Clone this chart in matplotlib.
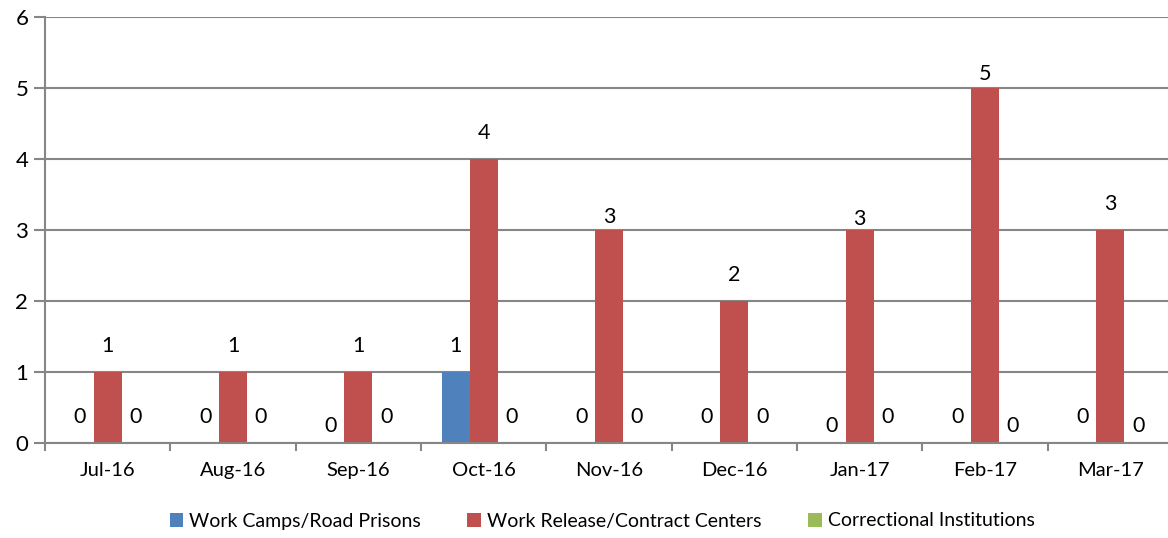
import matplotlib
matplotlib.use("Agg")
import matplotlib.pyplot as plt
import numpy as np
from matplotlib.patches import Patch

plt.rcParams['font.family'] = ['Lato', 'DejaVu Sans']

categories = ["Jul-16", "Aug-16", "Sep-16", "Oct-16", "Nov-16", "Dec-16", "Jan-17", "Feb-17", "Mar-17"]
work_camps = [0, 0, 0, 1, 0, 0, 0, 0, 0]
work_release = [1, 1, 1, 4, 3, 2, 3, 5, 3]
correctional = [0, 0, 0, 0, 0, 0, 0, 0, 0]
series_names = ["Work Camps/Road Prisons", "Work Release/Contract Centers", "Correctional Institutions"]
y_ticks = [0, 1, 2, 3, 4, 5, 6]

colors = ["#4F81BD", "#C0504D", "#9BBB59"]
# label offsets (points) where Excel placed the label closer to the bar: (series, category)
label_offsets = {(0, 2): 12, (0, 6): 12, (2, 7): 12, (2, 8): 12,
                 (1, 4): 9, (1, 6): 8, (1, 7): 10}
default_offset = 18.5

fig = plt.figure(figsize=(11.68, 5.38), dpi=100)
ax = fig.add_axes([45 / 1168, 95 / 538, 1128 / 1168, 426.3 / 538])

x = np.arange(len(categories))
bw = 1 / (3 + 1.5)
all_series = [work_camps, work_release, correctional]
for i, vals in enumerate(all_series):
    pos = x + (i - 1) * bw
    ax.bar(pos, vals, width=bw, color=colors[i], edgecolor='none', zorder=3)
    for j, (p, v) in enumerate(zip(pos, vals)):
        off = label_offsets.get((i, j), default_offset)
        ax.annotate(str(v), (p, v), xytext=(0, off), textcoords='offset points',
                    ha='center', va='center', fontsize=15.5, color='black', zorder=4)

ax.set_xlim(-0.5, len(categories) - 0.5)
ax.set_ylim(0, 6)
ax.set_yticks(y_ticks)
ax.set_yticklabels([str(t) for t in y_ticks], fontsize=16)
ax.set_xticks(x)
ax.set_xticklabels(categories, fontsize=14.5)
ax.set_xticks(np.arange(len(categories) + 1) - 0.5, minor=True)
ax.tick_params(axis='x', which='major', length=0, pad=14)
ax.tick_params(axis='x', which='minor', length=6, width=1.5, color='#868686')
ax.tick_params(axis='y', which='major', length=8, width=1.5, color='#868686', pad=4)

ax.grid(axis='y', color='#868686', linewidth=1.5, zorder=0)
for s in ['top', 'right']:
    ax.spines[s].set_visible(False)
for s in ['left', 'bottom']:
    ax.spines[s].set_color('#868686')
    ax.spines[s].set_linewidth(1.5)
    ax.spines[s].set_zorder(5)

handles = [Patch(facecolor=c, edgecolor='none') for c in colors]
fig.legend(handles, series_names, loc='center', bbox_to_anchor=(602 / 1168, 1 - 521 / 538),
           ncol=3, frameon=False, fontsize=14, handlelength=0.7, handleheight=0.7,
           handletextpad=0.3, columnspacing=2.4)

fig.savefig("out.png", dpi=100)
